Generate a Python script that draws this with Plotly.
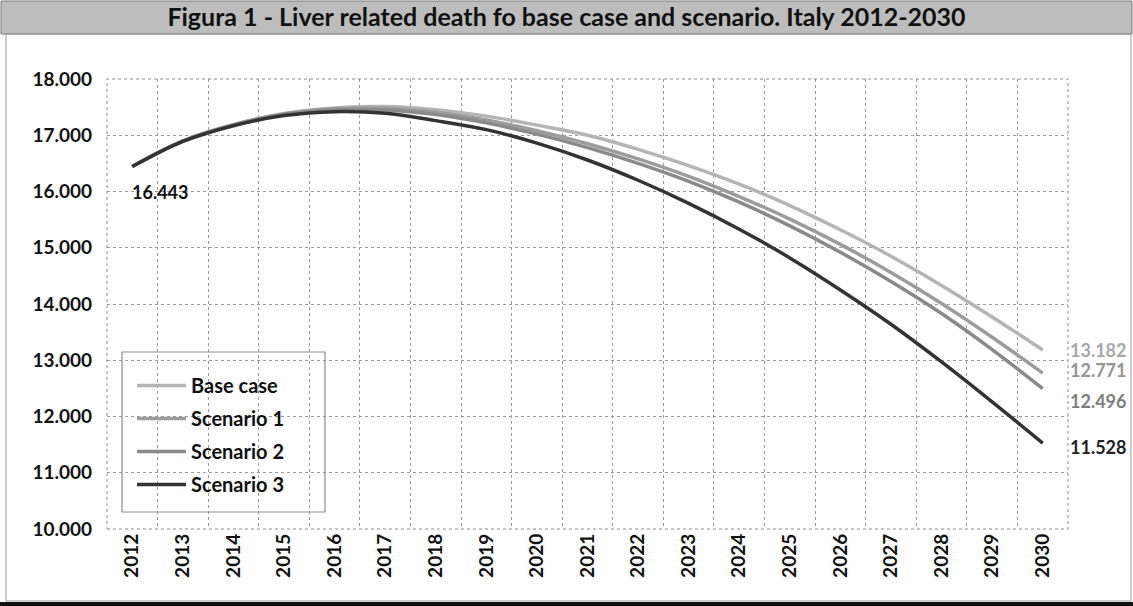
import plotly.graph_objects as go

years = list(range(2012, 2031))
base_case = [16443, 16900, 17190, 17385, 17485, 17510, 17455, 17340, 17180, 17000,
             16750, 16460, 16130, 15750, 15320, 14850, 14330, 13770, 13182]
scenario_1 = [16443, 16898, 17185, 17378, 17470, 17480, 17410, 17270, 17080, 16850,
              16580, 16270, 15910, 15510, 15060, 14560, 14010, 13410, 12771]
scenario_2 = [16443, 16895, 17180, 17370, 17450, 17450, 17370, 17220, 17020, 16780,
              16500, 16180, 15810, 15390, 14920, 14400, 13830, 13190, 12496]
scenario_3 = [16443, 16890, 17170, 17350, 17420, 17390, 17260, 17100, 16860, 16560,
              16200, 15790, 15330, 14820, 14250, 13640, 12970, 12260, 11528]

series_names = ["Base case", "Scenario 1", "Scenario 2", "Scenario 3"]
series_values = [base_case, scenario_1, scenario_2, scenario_3]
series_colors = ["#b4b4b4", "#9c9c9c", "#8a8a8a", "#333333"]
label_colors = ["#a8a8a8", "#959595", "#7d7d7d", "#222222"]
label_yshift = [0, 3, -12, -4]

y_ticks = [10000, 11000, 12000, 13000, 14000, 15000, 16000, 17000, 18000]

FONT = "Lato"

fig = go.Figure()
for i, (name, vals, col) in enumerate(zip(series_names, series_values, series_colors)):
    fig.add_trace(go.Scatter(
        x=years, y=vals, name="<b>" + name + "</b>", mode="lines",
        line=dict(color=col, width=3.5, shape="spline"),
        legendgroup=name,
    ))

# end labels
for vals, col, ys in zip(series_values, label_colors, label_yshift):
    fig.add_annotation(
        x=years[-1], y=vals[-1], xref="x", yref="y",
        text="<b>" + f"{vals[-1]:,}".replace(",", ".") + "</b>",
        showarrow=False, xanchor="left", xshift=25, yshift=ys,
        font=dict(family=FONT, size=18, color=col),
    )
# start label
fig.add_annotation(
    x=years[0], y=base_case[0], xref="x", yref="y",
    text="<b>" + f"{base_case[0]:,}".replace(",", ".") + "</b>",
    showarrow=False, xanchor="center", yanchor="top", yshift=-12, xshift=28,
    font=dict(family=FONT, size=18, color="#111111"),
)

L, R, T, B = 107, 65, 79, 77
W, H = 1133, 606
pw, ph = W - L - R, H - T - B

def px_x(p):
    return (p - L) / pw

def px_y(p):
    return (H - B - p) / ph

shapes = [
    # title bar
    dict(type="rect", xref="paper", yref="paper",
         x0=px_x(1), x1=px_x(W - 1), y0=px_y(34), y1=px_y(1),
         fillcolor="#bdbdbd", line=dict(color="#7a7a7a", width=1), layer="below"),
    # outer frame
    dict(type="rect", xref="paper", yref="paper",
         x0=px_x(6), x1=px_x(W - 2), y0=px_y(H - 5), y1=px_y(34),
         fillcolor="rgba(0,0,0,0)", line=dict(color="#9a9a9a", width=1), layer="below"),
    # bottom black band
    dict(type="rect", xref="paper", yref="paper",
         x0=px_x(0), x1=px_x(W), y0=px_y(H), y1=px_y(H - 4),
         fillcolor="#111111", line=dict(width=0), layer="below"),
    # plot border dotted
    dict(type="rect", xref="paper", yref="paper", x0=0, x1=1, y0=0, y1=1,
         line=dict(color="#8c8c8c", width=1, dash="dot"), layer="above"),
    # legend frame (transparent, gridlines show through)
    dict(type="rect", xref="paper", yref="paper",
         x0=px_x(122), x1=px_x(325), y0=px_y(512), y1=px_y(352),
         fillcolor="rgba(0,0,0,0)", line=dict(color="#8c8c8c", width=1.2), layer="above"),
]

fig.update_layout(
    width=W, height=H,
    margin=dict(l=L, r=R, t=T, b=B),
    paper_bgcolor="white", plot_bgcolor="white",
    separators=",.",
    title=dict(
        text="<b>Figura 1 - Liver related death fo base case and scenario. Italy 2012-2030</b>",
        x=0.5, xref="container", xanchor="center", y=1 - 17 / H, yref="container", yanchor="middle",
        font=dict(family=FONT, size=25, color="#111111"),
    ),
    font=dict(family=FONT, color="#111111"),
    shapes=shapes,
    showlegend=True,
    legend=dict(
        x=px_x(132), y=px_y(366), xanchor="left", yanchor="top",
        bgcolor="rgba(0,0,0,0)", borderwidth=0,
        font=dict(family=FONT, size=20, color="#111111"),
        tracegroupgap=4, itemwidth=49,
        title=dict(text=""),
    ),
    xaxis=dict(
        range=[2011.5, 2030.5], tickmode="array", tickvals=years,
        ticktext=["<b>%d</b>" % y for y in years],
        tickangle=-90, tickfont=dict(family=FONT, size=19, color="#111111"),
        showgrid=False, zeroline=False, showline=False, ticks="",
        minor=dict(tickmode="linear", tick0=2011.5, dtick=1, showgrid=True,
                   gridcolor="#9a9a9a", griddash="dot", gridwidth=1, ticks=""),
    ),
    yaxis=dict(
        range=[10000, 18000], tickmode="array", tickvals=y_ticks,
        ticktext=["<b>" + f"{v:,}".replace(",", ".") + "</b>" for v in y_ticks],
        tickfont=dict(family=FONT, size=19, color="#111111"),
        showgrid=True, gridcolor="#9a9a9a", griddash="dot", gridwidth=1,
        zeroline=False, showline=False, ticks="", ticklabelstandoff=14,
    ),
)

fig.write_html("out.html", config={"displayModeBar": False},
               post_script="document.body.style.margin='0';document.body.style.overflow='hidden';")
